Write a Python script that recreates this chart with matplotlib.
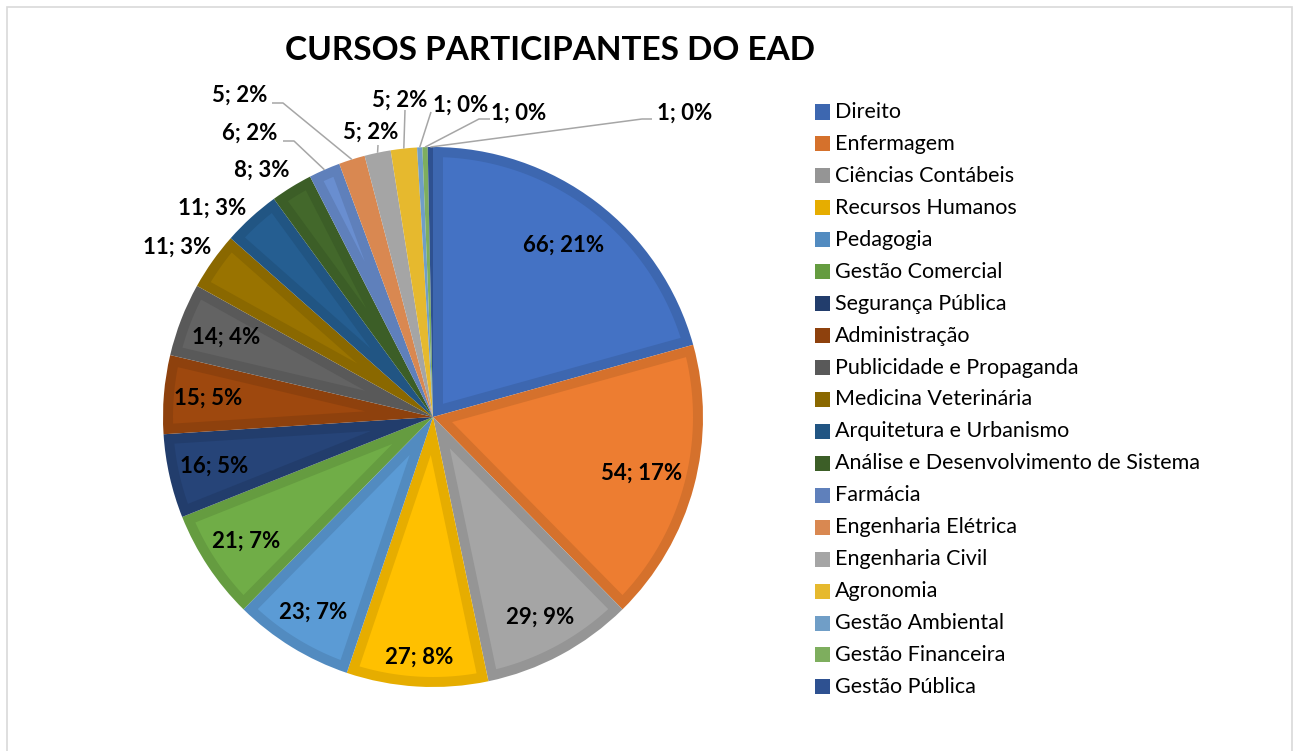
import numpy as np
import matplotlib
matplotlib.use('Agg')
import matplotlib.pyplot as plt
from matplotlib.patches import Rectangle, Polygon

plt.rcParams['font.family'] = ['Lato', 'DejaVu Sans']

# dados do gráfico
cursos = ['Direito', 'Enfermagem', 'Ciências Contábeis', 'Recursos Humanos', 'Pedagogia',
          'Gestão Comercial', 'Segurança Pública', 'Administração', 'Publicidade e Propaganda',
          'Medicina Veterinária', 'Arquitetura e Urbanismo', 'Análise e Desenvolvimento de Sistema',
          'Farmácia', 'Engenharia Elétrica', 'Engenharia Civil', 'Agronomia', 'Gestão Ambiental',
          'Gestão Financeira', 'Gestão Pública']
alunos = [66, 54, 29, 27, 23, 21, 16, 15, 14, 11, 11, 8, 6, 5, 5, 5, 1, 1, 1]
percentuais = [21, 17, 9, 8, 7, 7, 5, 5, 4, 3, 3, 3, 2, 2, 2, 2, 0, 0, 0]

cores = ['#4472C4', '#ED7D31', '#A5A5A5', '#FFC000', '#5B9BD5', '#70AD47', '#264478',
         '#9E480E', '#636363', '#997300', '#255E91', '#43682B', '#698ED0', '#F1975A',
         '#B7B7B7', '#FFCD33', '#7CAFDD', '#8CC168', '#335AA1']

# layout (pixels da figura)
W, H = 1293, 751
CX, CY, R = 433, 417, 270
BANDA = 10 / R  # largura da borda interna de cada fatia


def px(x, y):
    return (x - CX) / R, (CY - y) / R


def escurecer(c, f=0.9):
    r, g, b = matplotlib.colors.to_rgb(c)
    return (r * f, g * f, b * f)


bordas = [escurecer(c) for c in cores]

fig = plt.figure(figsize=(W / 100, H / 100), dpi=100)
ax = fig.add_axes([0, 0, 1, 1])

# fatias na cor da borda, miolo claro por cima
wedges, _ = ax.pie(alunos, colors=bordas, startangle=90, counterclock=False,
                   radius=1, center=(0, 0), wedgeprops=dict(linewidth=0))
for w, c in zip(wedges, cores):
    t1, t2 = np.deg2rad(w.theta1), np.deg2rad(w.theta2)
    meio = (t2 - t1) / 2
    d = np.arcsin(BANDA / (1 - BANDA))
    if meio <= d * 1.3:
        continue
    tm = (t1 + t2) / 2
    ap = BANDA / np.sin(meio)
    ang = np.linspace(t1 + d, t2 - d, 60)
    pts = [(ap * np.cos(tm), ap * np.sin(tm))] + \
          [((1 - BANDA) * np.cos(a), (1 - BANDA) * np.sin(a)) for a in ang]
    ax.add_patch(Polygon(pts, closed=True, facecolor=c, edgecolor='none'))

ax.set_xlim(-CX / R, (W - CX) / R)
ax.set_ylim(-(H - CY) / R, CY / R)
ax.set_aspect('auto')
ax.axis('off')

textos = [f'{v}; {p}%' for v, p in zip(alunos, percentuais)]
medios = [np.deg2rad((w.theta1 + w.theta2) / 2) for w in wedges]

# rótulos internos: raio relativo de cada rótulo
raios_int = [0.80, 0.80, 0.84, 0.89, 0.85, 0.83, 0.83, 0.835, 0.82]
for i, r in enumerate(raios_int):
    ax.text(r * np.cos(medios[i]), r * np.sin(medios[i]), textos[i],
            ha='center', va='center', fontsize=16, fontweight='bold', color='black')

# rótulos externos: posição do texto e ponto de partida da linha guia (pixels)
pos_ext = {9: (177, 247), 10: (212, 208), 11: (262, 170), 12: (250, 133),
           13: (240, 95), 14: (371, 132), 15: (400, 100), 16: (461, 105),
           17: (519, 113), 18: (685, 113)}
guias = {12: [(283, 141), (294, 141)], 13: [(272, 103), (283, 103)],
         14: [(378, 145)], 15: [(405, 110)], 16: [(431, 112)],
         17: [(490, 119), (479, 119)], 18: [(652, 119), (642, 119)]}

for i, (x, y) in pos_ext.items():
    ax.text(*px(x, y), textos[i], ha='center', va='center',
            fontsize=16, fontweight='bold', color='black')
for i, pts in guias.items():
    xs = [px(*p)[0] for p in pts] + [np.cos(medios[i])]
    ys = [px(*p)[1] for p in pts] + [np.sin(medios[i])]
    ax.plot(xs, ys, color='#A6A6A6', lw=1.1, solid_capstyle='butt')

# título
fig.text(550 / W, 1 - 51 / H, 'CURSOS PARTICIPANTES DO EAD', ha='center', va='center',
         fontsize=24, fontweight='bold', color='black')

# legenda
for i, nome in enumerate(cursos):
    yc = 112 + 31.94 * i
    fig.patches.append(Rectangle((815 / W, 1 - (yc + 7.5) / H), 15 / W, 15 / H,
                                 transform=fig.transFigure, facecolor=bordas[i],
                                 edgecolor='none'))
    fig.text(835 / W, 1 - yc / H, nome, ha='left', va='center', fontsize=15.5, color='black')

# moldura
fig.patches.append(Rectangle((7 / W, -0.01), (W - 8.5) / W, 1 - 7 / H + 0.01,
                             transform=fig.transFigure, fill=False,
                             edgecolor='#D9D9D9', lw=1.2))

fig.savefig('out.png', dpi=100)
